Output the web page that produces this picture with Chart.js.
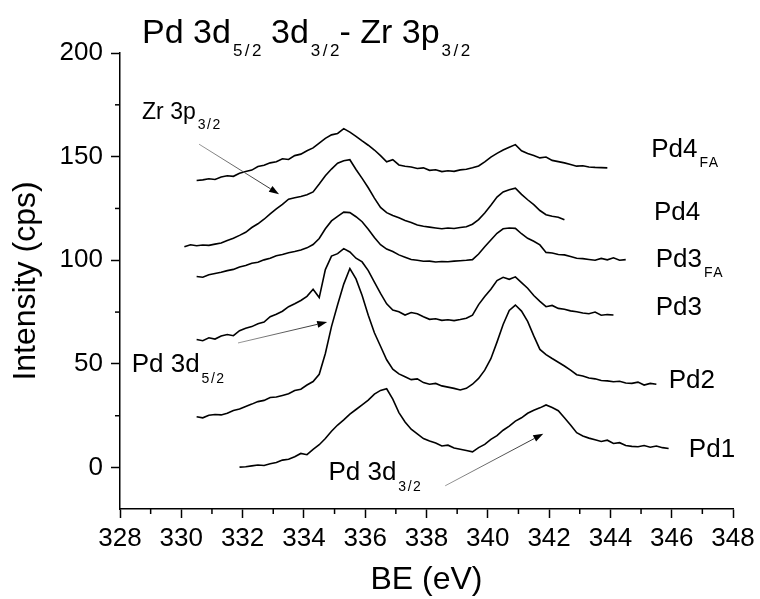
<!DOCTYPE html>
<html>
<head>
<meta charset="utf-8">
<script src="https://cdn.jsdelivr.net/npm/chart.js@4.4.1/dist/chart.umd.min.js"></script>
<style>
html,body{margin:0;padding:0;background:#fff;}
#wrap{width:760px;height:599px;}
</style>
</head>
<body>
<div id="wrap"><canvas id="c" width="760" height="599"></canvas></div>
<script>
// ---- DATA (binding energy grid, eV) ----
const energies = [
  330.1,330.3,330.5,330.7,330.9,331.1,331.3,331.5,331.7,331.9,
  332.1,332.3,332.5,332.7,332.9,333.1,333.3,333.5,333.7,333.9,
  334.1,334.3,334.5,334.7,334.9,335.1,335.3,335.5,335.7,335.9,
  336.1,336.3,336.5,336.7,336.9,337.1,337.3,337.5,337.7,337.9,
  338.1,338.3,338.5,338.7,338.9,339.1,339.3,339.5,339.7,339.9,
  340.1,340.3,340.5,340.7,340.9,341.1,341.3,341.5,341.7,341.9,
  342.1,342.3,342.5,342.7,342.9,343.1,343.3,343.5,343.7,343.9,
  344.1,344.3,344.5,344.7,344.9,345.1,345.3,345.5,345.7,345.9
];
const seriesNames = ['Pd4FA','Pd4','Pd3FA','Pd3','Pd2','Pd1'];
const pd4fa = [
  null,null,138.5,138.8,139.3,139.0,140.2,140.8,140.5,142.0,
  142.8,143.5,145.2,145.8,147.0,147.5,149.0,148.6,150.5,151.2,
  152.8,154.2,156.5,158.8,160.5,161.2,163.5,161.8,159.8,157.6,
  155.5,153.2,150.5,147.5,148.5,146.0,145.4,145.0,144.3,144.6,
  143.4,143.7,142.8,143.2,142.9,143.6,143.9,144.6,145.5,147.5,
  149.8,151.6,153.2,154.5,155.8,152.8,151.5,150.6,149.4,149.8,
  148.2,147.6,147.0,146.2,145.4,145.6,145.0,144.8,144.7,144.6,
  null,null,null,null,null,null,null,null,null,null
];
const pd4 = [
  106.5,107.5,107.0,107.4,107.2,107.8,108.3,109.5,110.6,112.0,
  113.5,115.8,117.6,119.8,122.4,124.8,127.0,129.5,130.2,130.8,
  131.6,133.0,136.8,140.8,144.0,146.8,148.0,148.5,143.8,139.5,
  135.0,130.0,125.5,123.0,121.6,120.5,119.2,118.2,117.0,116.4,
  116.0,115.6,115.2,115.6,115.3,115.8,116.2,117.4,119.6,122.8,
  126.5,130.5,133.0,134.0,134.8,131.8,129.2,126.8,124.0,122.0,
  121.2,120.8,119.5,null,null,null,null,null,null,null,
  null,null,null,null,null,null,null,null,null,null
];
const pd3fa = [
  null,null,92.2,91.8,93.0,93.6,94.2,95.0,95.6,96.8,
  97.5,98.6,99.0,100.2,101.0,102.2,102.8,103.6,104.2,105.0,
  106.0,107.6,110.5,115.2,119.0,121.2,123.2,123.0,121.0,118.6,
  115.0,111.0,107.5,105.4,104.2,102.6,101.5,100.4,100.0,99.5,
  99.6,99.2,99.4,99.3,99.6,99.8,100.0,100.3,103.0,106.5,
  109.8,113.0,115.2,115.6,115.4,112.8,110.6,109.2,107.4,103.8,
  103.5,102.8,102.6,101.8,101.0,100.8,100.4,100.0,100.9,100.2,
  101.2,100.0,100.3,null,null,null,null,null,null,null
];
const pd3 = [
  null,null,61.8,61.2,62.6,62.0,63.5,64.2,63.6,66.0,
  67.2,68.0,69.4,70.2,72.8,74.0,75.4,77.6,79.0,80.6,
  82.6,86.0,82.0,95.5,102.0,103.2,105.6,104.0,101.0,99.2,
  95.0,89.5,84.0,79.0,76.0,75.2,73.6,74.8,74.2,72.8,
  71.5,71.8,71.0,71.3,70.9,71.4,72.0,73.5,78.6,82.5,
  86.0,90.2,91.8,90.8,92.0,89.2,86.5,83.0,80.2,77.6,
  78.2,76.8,76.4,75.6,75.2,74.6,74.2,75.0,73.5,73.8,
  73.6,null,null,null,null,null,null,null,null,null
];
const pd2 = [
  null,null,24.5,24.0,25.2,25.6,25.4,26.2,27.5,28.2,
  29.5,30.6,31.8,32.4,33.8,34.0,34.8,35.6,37.2,37.8,
  39.8,41.5,45.0,55.0,68.0,78.5,88.5,96.0,91.0,83.0,
  73.5,65.0,58.5,52.0,47.5,45.2,43.8,42.4,42.8,41.0,
  40.2,40.6,39.4,38.8,38.2,37.4,38.2,40.2,43.0,47.0,
  52.5,60.5,69.0,75.8,78.4,75.5,70.5,63.5,57.0,54.5,
  52.6,50.8,49.0,47.0,44.8,44.2,43.2,42.8,42.0,41.8,
  41.4,41.6,40.8,40.6,41.2,39.8,40.6,40.2,null,null
];
const pd1 = [
  null,null,null,null,null,null,null,null,null,0.2,
  0.4,0.8,1.2,1.0,1.8,2.4,3.6,4.0,5.2,6.8,
  6.2,8.8,11.0,14.0,17.5,20.5,23.0,25.8,28.0,30.2,
  32.5,35.4,37.2,38.0,33.0,26.5,22.0,18.5,16.2,14.0,
  12.8,11.8,10.4,10.8,9.4,8.8,8.2,7.6,9.6,11.2,
  13.6,15.4,18.0,20.0,22.4,24.0,26.2,27.6,28.8,30.2,
  29.0,27.4,24.0,20.5,16.8,15.2,14.2,13.4,12.6,13.2,
  11.6,12.0,10.6,10.2,10.0,10.6,9.8,10.4,9.6,9.2
];
const xTicksMajor = [328,330,332,334,336,338,340,342,344,346,348];
const xTicksMinor = [329,331,333,335,337,339,341,343,345,347];
const yTicksMajor = [0,50,100,150,200];
const yTicksMinor = [25,75,125,175];

// ---- annotation layout (data coordinates) ----
const FONT = '"Liberation Sans", Arial, Helvetica, sans-serif';
const textLabels = [
  {parts:[['Pd 3d'],['5/2',1],[' 3d'],['3/2',1],['- Zr 3p'],['3/2',1]], x:328.72, y:204.7, size:34, sub:17, drop:13, ls:2.5},
  {parts:[['Zr 3p'],['3/2',1]], x:328.72, y:168.0, size:23, sub:14, drop:10, ls:1.5},
  {parts:[['Pd 3d'],['5/2',1]], x:328.38, y:46.2, size:26, sub:14, drop:11, ls:1.5},
  {parts:[['Pd 3d'],['3/2',1]], x:334.8, y:-5.9, size:26, sub:14, drop:11, ls:1.5},
  {parts:[['Pd4'],['FA',1]], x:345.33, y:149.7, size:26, sub:14, drop:10, ls:1.5},
  {parts:[['Pd4']], x:345.42, y:119.4, size:26},
  {parts:[['Pd3'],['FA',1]], x:345.48, y:96.7, size:26, sub:14, drop:10, ls:1.5},
  {parts:[['Pd3']], x:345.48, y:73.5, size:26},
  {parts:[['Pd2']], x:345.9, y:38.5, size:26},
  {parts:[['Pd1']], x:346.56, y:5.3, size:26}
];
const arrows = [
  {from:[330.58,156.0], to:[333.19,131.9]},
  {from:[331.85,60.1], to:[334.76,70.2]},
  {from:[338.61,-8.8], to:[341.81,16.3]}
];

const seriesValues = [pd4fa, pd4, pd3fa, pd3, pd2, pd1];
const datasets = seriesNames.map((name, k) => ({
  label: name,
  data: energies.map((e, i) => ({x: e, y: seriesValues[k][i]})).filter(p => p.y !== null),
  borderColor: '#000',
  borderWidth: 1.6,
  pointRadius: 0,
  fill: false,
  tension: 0
}));

function drawRich(ctx, x, y, lab) {
  let cx = x;
  lab.parts.forEach(([t, isSub]) => {
    if (isSub) {
      ctx.font = lab.sub + 'px ' + FONT;
      try { ctx.letterSpacing = (lab.ls || 0) + 'px'; } catch (e) {}
      cx += 2;
      ctx.fillText(t, cx, y + lab.drop);
      cx += ctx.measureText(t).width - (lab.ls || 0);
      try { ctx.letterSpacing = '0px'; } catch (e) {}
    } else {
      ctx.font = lab.size + 'px ' + FONT;
      ctx.fillText(t, cx, y);
      cx += ctx.measureText(t).width;
    }
  });
}

const annotPlugin = {
  id: 'annot',
  afterDraw(chart) {
    const ctx = chart.ctx, xs = chart.scales.x, ys = chart.scales.y;
    ctx.save();
    // minor ticks
    ctx.strokeStyle = '#000';
    ctx.lineWidth = 1.5;
    xTicksMinor.forEach(v => {
      const px = xs.getPixelForValue(v);
      ctx.beginPath(); ctx.moveTo(px, ys.bottom); ctx.lineTo(px, ys.bottom + 5); ctx.stroke();
    });
    yTicksMinor.forEach(v => {
      const py = ys.getPixelForValue(v);
      ctx.beginPath(); ctx.moveTo(xs.left, py); ctx.lineTo(xs.left - 5, py); ctx.stroke();
    });
    // arrows
    arrows.forEach(a => {
      const x1 = xs.getPixelForValue(a.from[0]), y1 = ys.getPixelForValue(a.from[1]);
      const x2 = xs.getPixelForValue(a.to[0]), y2 = ys.getPixelForValue(a.to[1]);
      const ang = Math.atan2(y2 - y1, x2 - x1);
      const hl = 10, hw = 3.5;
      const bx = x2 - hl * Math.cos(ang), by = y2 - hl * Math.sin(ang);
      const g = ctx.createLinearGradient(x1, y1, bx, by);
      g.addColorStop(0, '#9a9a9a');
      g.addColorStop(1, '#333');
      ctx.strokeStyle = g;
      ctx.lineWidth = 1;
      ctx.beginPath(); ctx.moveTo(x1, y1); ctx.lineTo(bx, by); ctx.stroke();
      ctx.fillStyle = '#000';
      ctx.beginPath();
      ctx.moveTo(x2, y2);
      ctx.lineTo(bx + hw * Math.sin(ang), by - hw * Math.cos(ang));
      ctx.lineTo(bx - hw * Math.sin(ang), by + hw * Math.cos(ang));
      ctx.closePath(); ctx.fill();
    });
    // text labels
    ctx.fillStyle = '#000';
    ctx.textAlign = 'left';
    ctx.textBaseline = 'alphabetic';
    textLabels.forEach(l => drawRich(ctx, xs.getPixelForValue(l.x), ys.getPixelForValue(l.y), l));
    ctx.restore();
  }
};

new Chart(document.getElementById('c'), {
  type: 'line',
  data: { datasets },
  plugins: [annotPlugin],
  options: {
    responsive: false,
    animation: false,
    devicePixelRatio: 1,
    layout: { padding: { top: 53, right: 27, left: 0, bottom: 0 } },
    plugins: { legend: { display: false }, tooltip: { enabled: false }, title: { display: false } },
    scales: {
      x: {
        type: 'linear', min: 328, max: 348,
        afterFit(s) { s.height = 90; },
        afterBuildTicks(s) { s.ticks = xTicksMajor.map(v => ({ value: v })); },
        ticks: { color: '#000', font: { family: FONT, size: 26 }, padding: 5, maxRotation: 0, autoSkip: false },
        grid: { drawOnChartArea: false, drawTicks: true, tickLength: 9, tickColor: '#000', tickWidth: 1.5 },
        border: { display: true, color: '#000', width: 1.5 },
        title: { display: true, text: 'BE (eV)', color: '#000', font: { family: FONT, size: 32 }, padding: { top: 0, bottom: 0 } }
      },
      y: {
        type: 'linear', min: -20, max: 200,
        afterFit(s) { s.width = 120; },
        afterBuildTicks(s) { s.ticks = yTicksMajor.map(v => ({ value: v })); },
        ticks: { color: '#000', font: { family: FONT, size: 26 }, padding: 8 },
        grid: { drawOnChartArea: false, drawTicks: true, tickLength: 9, tickColor: '#000', tickWidth: 1.5 },
        border: { display: true, color: '#000', width: 1.5 },
        title: { display: true, text: 'Intensity (cps)', color: '#000', font: { family: FONT, size: 32 }, padding: { top: 7, bottom: 0 } }
      }
    }
  }
});
</script>
</body>
</html>
